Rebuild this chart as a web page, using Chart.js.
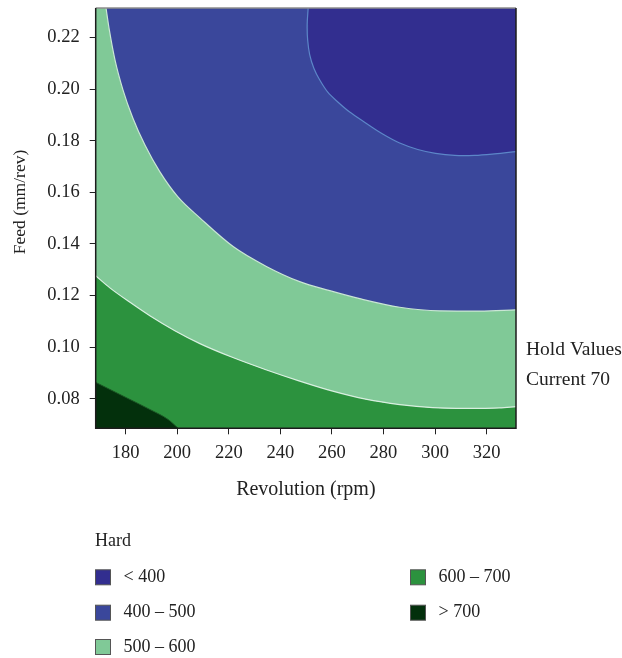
<!DOCTYPE html>
<html><head><meta charset="utf-8">
<script src="https://cdn.jsdelivr.net/npm/chart.js@4.4.1/dist/chart.umd.min.js"></script>
<style>html,body{margin:0;padding:0;background:#fff}#wrap{width:622px;height:658px;position:relative}</style>
</head><body><div id="wrap"><canvas id="c" width="622" height="658"></canvas></div>
<script>
// ---- data ----
const xTicks = [180, 200, 220, 240, 260, 280, 300, 320];
const yTicks = [0.08, 0.10, 0.12, 0.14, 0.16, 0.18, 0.20, 0.22];
const xRange = [168.4, 331.4];
const yRange = [0.0686, 0.2314];
const levelLabels = ['< 400', '400 – 500', '500 – 600', '600 – 700', '> 700'];
const levelColors = ['#322e8f', '#3a479b', '#80c997', '#2c923e', '#03300c'];
const xTitle = 'Revolution (rpm)';
const yTitle = 'Feed (mm/rev)';
const legendTitle = 'Hard';
const holdText = ['Hold Values', 'Current 70'];

// contour boundary: < 400 | 400-500
const b400X = [250.8, 250.4, 250.6, 251.4, 253.0, 255.3, 258.4, 262.3, 266.9, 273.1, 279.7, 286.3, 293.3, 300.2, 307.6, 315.3, 323.1, 331.4];
const b400Y = [0.2314, 0.2248, 0.2190, 0.2132, 0.2081, 0.2035, 0.1988, 0.1950, 0.1911, 0.1869, 0.1826, 0.1791, 0.1766, 0.1751, 0.1743, 0.1743, 0.1749, 0.1758];
// contour boundary: 400-500 | 500-600
const b500X = [172.4, 173.7, 175.9, 179.0, 182.8, 187.5, 193.3, 200.3, 208.8, 221.7, 234.6, 247.5, 259.2, 270.8, 286.3, 301.8, 317.3, 331.4];
const b500Y = [0.2314, 0.2228, 0.2112, 0.1996, 0.1888, 0.1783, 0.1679, 0.1582, 0.1501, 0.1390, 0.1313, 0.1254, 0.1219, 0.1188, 0.1155, 0.1141, 0.1140, 0.1145];
// contour boundary: 500-600 | 600-700
const b600X = [168.4, 173.9, 181.7, 189.4, 199.1, 208.8, 221.6, 234.4, 247.5, 260.3, 273.1, 286.3, 299.1, 311.8, 325.0, 331.4];
const b600Y = [0.1277, 0.1230, 0.1174, 0.1122, 0.1064, 0.1014, 0.0960, 0.0913, 0.0869, 0.0830, 0.0799, 0.0778, 0.0766, 0.0763, 0.0765, 0.0770];
// contour boundary: 600-700 | > 700
const b700X = [168.4, 180.4, 189.4, 196.5, 200.4];
const b700Y = [0.0864, 0.0804, 0.0759, 0.0720, 0.0686];

const pts = (xs, ys) => xs.map((x, i) => ({x, y: ys[i]}));

const FONT = '"Liberation Serif", "DejaVu Serif", serif';
const TXT = '#222';

const decor = {
  id: 'decor',
  afterDatasetsDraw(chart) {
    const {ctx, chartArea: a} = chart;
    ctx.save();
    ctx.lineWidth = 1.5;
    ctx.strokeStyle = '#8c8c8c';
    ctx.beginPath(); ctx.moveTo(a.left, a.top); ctx.lineTo(a.right, a.top); ctx.stroke();
    ctx.strokeStyle = '#1c1c1c';
    ctx.beginPath();
    ctx.moveTo(a.left, a.top); ctx.lineTo(a.left, a.bottom);
    ctx.lineTo(a.right, a.bottom); ctx.lineTo(a.right, a.top);
    ctx.stroke();
    ctx.restore();
  },
  afterDraw(chart) {
    const {ctx, chartArea: a} = chart;
    ctx.save();
    ctx.fillStyle = TXT;
    ctx.textBaseline = 'middle';
    // y axis title
    ctx.save();
    ctx.font = '17.5px ' + FONT;
    ctx.translate(20, 202);
    ctx.rotate(-Math.PI / 2);
    ctx.textAlign = 'center';
    ctx.fillText(yTitle, 0, 0);
    ctx.restore();
    // hold values
    ctx.font = '19.5px ' + FONT;
    ctx.textAlign = 'left';
    ctx.fillText(holdText[0], a.right + 10, 350);
    ctx.fillText(holdText[1], a.right + 10, 380);
    // legend
    ctx.font = '18px ' + FONT;
    ctx.fillText(legendTitle, 95, 541.7);
    const rows = [577.3, 612.7, 647];
    chart.data.datasets.forEach((ds, i) => {
      const col = i < 3 ? 0 : 1;
      const row = i < 3 ? i : i - 3;
      const x = col === 0 ? 95 : 410;
      const y = rows[row];
      ctx.fillStyle = ds.backgroundColor;
      ctx.fillRect(x + 0.5, y - 7.5, 15, 15);
      ctx.strokeStyle = '#555';
      ctx.lineWidth = 1;
      ctx.strokeRect(x + 0.5, y - 7.5, 15, 15);
      ctx.fillStyle = TXT;
      ctx.fillText(ds.label, x + 28.5, y);
    });
    ctx.restore();
  }
};

const mk = (label, color, data, fill, order, border, bw, smooth) => Object.assign({
  label, data, fill, order,
  backgroundColor: color,
  borderColor: border,
  borderWidth: bw,
  pointRadius: 0
}, smooth);

const MONO = {cubicInterpolationMode: 'monotone'};
const BEZ = {tension: 0.35};

new Chart(document.getElementById('c'), {
  type: 'line',
  data: {
    datasets: [
      mk(levelLabels[0], levelColors[0], pts(b400X, b400Y), 'end', 0, '#5c86c8', 1.2, BEZ),
      mk(levelLabels[1], levelColors[1], pts(b500X, b500Y), 'end', 1, '#c9e6d4', 1.2, MONO),
      mk(levelLabels[2], levelColors[2], pts(b600X, b600Y), 'end', 2, '#d7efdf', 1.2, MONO),
      mk(levelLabels[3], levelColors[3], pts(b600X, b600Y), 'start', 3, 'rgba(0,0,0,0)', 0, MONO),
      mk(levelLabels[4], levelColors[4], pts(b700X, b700Y), 'start', 1, '#1d5a26', 1, MONO)
    ]
  },
  options: {
    responsive: false,
    animation: false,
    devicePixelRatio: 1,
    layout: {padding: {left: 0, top: 8, right: 106, bottom: 149.7}},
    plugins: {legend: {display: false}, tooltip: {enabled: false}},
    scales: {
      x: {
        type: 'linear', min: xRange[0], max: xRange[1],
        afterBuildTicks: s => { s.ticks = xTicks.map(v => ({value: v})); },
        afterFit: s => { s.height = 80; s.paddingLeft = 0; s.paddingRight = 0; },
        ticks: {color: TXT, font: {family: FONT, size: 18.5}, padding: 8, callback: v => String(v), maxRotation: 0},
        grid: {drawOnChartArea: false, drawTicks: true, tickLength: 6, tickColor: '#222', tickWidth: 1},
        border: {display: false},
        title: {display: true, text: xTitle, color: TXT, font: {family: FONT, size: 20}, padding: {top: 4, bottom: 7}}
      },
      y: {
        type: 'linear', min: yRange[0], max: yRange[1],
        afterBuildTicks: s => { s.ticks = yTicks.map(v => ({value: v})); },
        afterFit: s => { s.width = 95.7; s.paddingTop = 0; s.paddingBottom = 0; },
        ticks: {color: TXT, font: {family: FONT, size: 18.5}, padding: 10, callback: v => v.toFixed(2)},
        grid: {drawOnChartArea: false, drawTicks: true, tickLength: 6, tickColor: '#222', tickWidth: 1},
        border: {display: false}
      }
    }
  },
  plugins: [decor]
});
</script>
</body></html>
